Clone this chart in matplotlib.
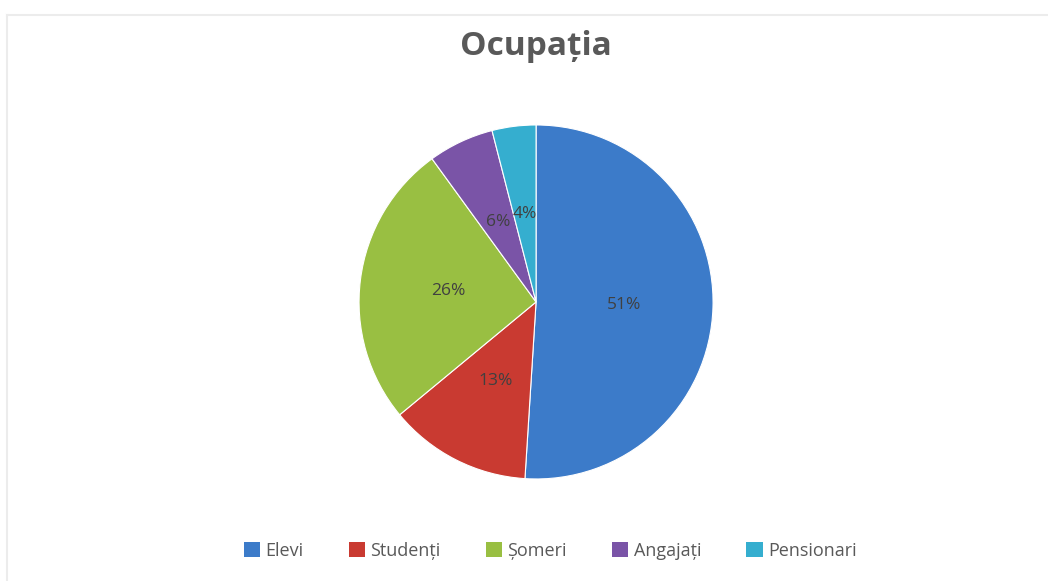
import matplotlib.pyplot as plt
from matplotlib.lines import Line2D
from matplotlib.patches import Patch

categories = ["Elevi", "Studenți", "Șomeri", "Angajați", "Pensionari"]
values = [51, 13, 26, 6, 4]
colors = ["#3c7bc9", "#c93a31", "#99bf42", "#7a54a7", "#35aecf"]

plt.rcParams['font.family'] = ['Open Sans', 'DejaVu Sans']

fig = plt.figure(figsize=(10.48, 5.81), dpi=100)
fig.patch.set_facecolor("white")

# faint frame of the original chart area
fig.add_artist(Line2D([0.007, 1.0], [0.974, 0.974], color="#ececec", lw=1.5))
fig.add_artist(Line2D([0.007, 0.007], [0.0, 0.974], color="#ececec", lw=1.5))

ax = fig.add_axes([0.3426, 0.1756, 0.3378, 0.6093])
wedges, texts, autotexts = ax.pie(
    values, colors=colors, startangle=90, counterclock=False,
    autopct="%d%%", pctdistance=0.5,
    wedgeprops=dict(edgecolor="white", linewidth=0.8),
    textprops=dict(color="#404040", fontsize=12.5),
)
ax.set_xlim(-1.0, 1.0)
ax.set_ylim(-1.0, 1.0)
ax.set_aspect("equal")

fig.text(0.5115, 0.92, "Ocupația", ha="center", va="center",
         fontsize=24, fontweight="bold", color="#595959")

handles = [Patch(facecolor=c, edgecolor="none") for c in colors]
fig.legend(handles, categories, loc="center", bbox_to_anchor=(0.525, 0.052),
           ncol=5, frameon=False, fontsize=13, handlelength=0.9, handleheight=0.9,
           handletextpad=0.3, columnspacing=2.5, labelcolor="#595959")

plt.savefig("out.png", dpi=100)
